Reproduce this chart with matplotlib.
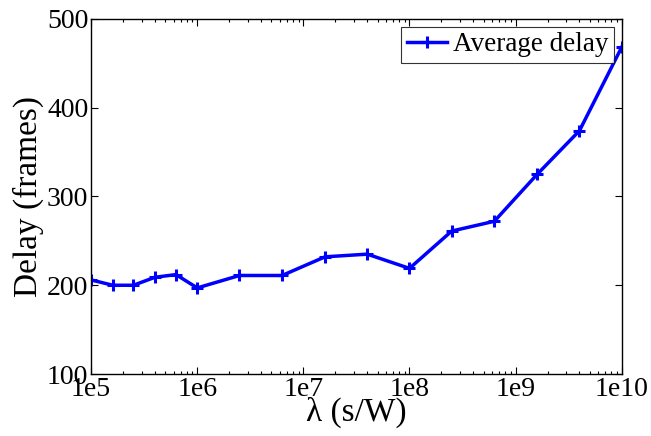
import matplotlib
matplotlib.use("Agg")
import matplotlib.pyplot as plt
from matplotlib.ticker import FixedLocator, FixedFormatter, LogLocator, NullFormatter

lam = [1e5, 1.6e5, 2.5e5, 4e5, 6.3e5, 1e6, 2.5e6, 6.3e6, 1.6e7, 4e7,
       1e8, 2.5e8, 6.3e8, 1.6e9, 4e9, 1e10]
delay = [206, 200, 200, 209, 212, 197, 211, 211, 232, 235,
         219, 261, 272, 325, 374, 468]
xticks = [1e5, 1e6, 1e7, 1e8, 1e9, 1e10]
xtick_labels = ['1e5', '1e6', '1e7', '1e8', '1e9', '1e10']
yticks = [100, 200, 300, 400, 500]

plt.rcParams['font.family'] = ['Liberation Serif', 'DejaVu Serif']

fig, ax = plt.subplots(figsize=(6.51, 4.36), dpi=100)
ax.plot(lam, delay, color='#0000ff', lw=2.5, marker='+', ms=9, mew=2.2,
        label='Average delay')
ax.set_xscale('log')
ax.set_xlim(1e5, 1e10)
ax.set_ylim(100, 500)

ax.xaxis.set_major_locator(FixedLocator(xticks))
ax.xaxis.set_major_formatter(FixedFormatter(xtick_labels))
ax.xaxis.set_minor_locator(LogLocator(base=10, subs=range(2, 10)))
ax.xaxis.set_minor_formatter(NullFormatter())
ax.set_yticks(yticks)

ax.tick_params(which='both', direction='in', top=True, right=True,
               labelsize=20, pad=2)
ax.tick_params(which='major', length=5, width=0.8)
ax.tick_params(which='minor', length=2.5, width=0.8)
for s in ax.spines.values():
    s.set_linewidth(1.0)

ax.set_xlabel('λ (s/W)', fontsize=24, labelpad=-4)
ax.set_ylabel('Delay (frames)', fontsize=24, labelpad=2)

leg = ax.legend(loc='upper right', fontsize=19.5, frameon=True, fancybox=False,
                borderpad=0.2, handlelength=1.5, handletextpad=0.2,
                borderaxespad=0.3)
leg.get_frame().set_edgecolor('black')
leg.get_frame().set_linewidth(0.8)

plt.subplots_adjust(left=0.14, right=0.955, top=0.957, bottom=0.142)
fig.savefig('out.png', dpi=100)
